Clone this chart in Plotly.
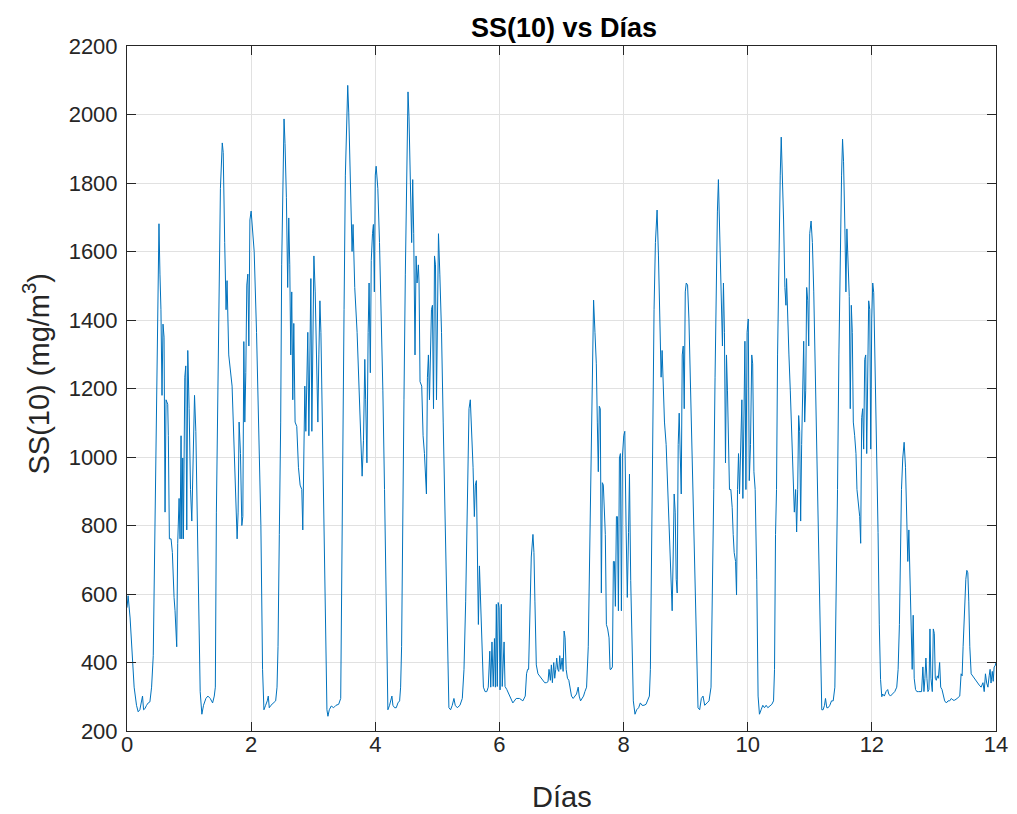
import plotly.graph_objects as go

# Días (x) and SS(10) in mg/m3 (y)
dias = [
    0.000, 0.018, 0.050, 0.099, 0.115, 0.153, 0.180, 0.207, 0.234, 0.250, 0.267, 0.288, 0.315, 0.342, 0.369,
    0.396, 0.423, 0.450, 0.466, 0.493, 0.515, 0.531, 0.547, 0.564, 0.580, 0.597, 0.613, 0.629, 0.656, 0.666,
    0.683, 0.710, 0.731, 0.758, 0.774, 0.801, 0.817, 0.839, 0.855, 0.871, 0.882, 0.898, 0.909, 0.931, 0.947,
    0.963, 0.979, 1.001, 1.023, 1.044, 1.071, 1.088, 1.109, 1.125, 1.152, 1.179, 1.206, 1.233, 1.271, 1.303,
    1.341, 1.379, 1.406, 1.423, 1.440, 1.460, 1.480, 1.505, 1.535, 1.550, 1.574, 1.596, 1.612, 1.639, 1.693,
    1.736, 1.774, 1.790, 1.806, 1.828, 1.850, 1.866, 1.882, 1.898, 1.914, 1.930, 1.947, 1.963, 1.980, 2.000,
    2.049, 2.087, 2.125, 2.157, 2.184, 2.206, 2.233, 2.260, 2.276, 2.292, 2.319, 2.357, 2.395, 2.417, 2.433,
    2.454, 2.476, 2.492, 2.508, 2.530, 2.546, 2.568, 2.589, 2.606, 2.622, 2.638, 2.654, 2.671, 2.687, 2.708,
    2.735, 2.762, 2.789, 2.816, 2.832, 2.849, 2.865, 2.881, 2.897, 2.913, 2.930, 2.946, 2.962, 2.978, 2.995,
    3.011, 3.032, 3.054, 3.075, 3.091, 3.108, 3.124, 3.140, 3.167, 3.194, 3.221, 3.237, 3.259, 3.291, 3.329,
    3.367, 3.410, 3.443, 3.459, 3.475, 3.497, 3.518, 3.540, 3.556, 3.572, 3.594, 3.615, 3.626, 3.642, 3.669,
    3.707, 3.734, 3.761, 3.788, 3.810, 3.831, 3.845, 3.865, 3.885, 3.900, 3.920, 3.935, 3.955, 3.970, 3.985,
    4.000, 4.014, 4.041, 4.068, 4.095, 4.122, 4.149, 4.176, 4.203, 4.230, 4.252, 4.268, 4.284, 4.311, 4.338,
    4.365, 4.392, 4.408, 4.424, 4.441, 4.462, 4.484, 4.505, 4.527, 4.543, 4.565, 4.586, 4.603, 4.619, 4.640,
    4.657, 4.673, 4.694, 4.705, 4.721, 4.748, 4.770, 4.792, 4.813, 4.824, 4.840, 4.856, 4.873, 4.889, 4.905,
    4.921, 4.938, 4.954, 4.970, 4.986, 5.002, 5.018, 5.040, 5.067, 5.094, 5.126, 5.159, 5.186, 5.213, 5.240,
    5.267, 5.288, 5.321, 5.364, 5.402, 5.429, 5.456, 5.483, 5.510, 5.531, 5.553, 5.575, 5.596, 5.612, 5.629,
    5.645, 5.661, 5.678, 5.699, 5.721, 5.742, 5.769, 5.796, 5.820, 5.845, 5.860, 5.880, 5.900, 5.920, 5.935,
    5.950, 5.965, 5.980, 5.995, 6.010, 6.030, 6.045, 6.075, 6.090, 6.119, 6.162, 6.216, 6.270, 6.324, 6.378,
    6.416, 6.437, 6.454, 6.470, 6.491, 6.513, 6.540, 6.556, 6.572, 6.594, 6.621, 6.648, 6.675, 6.702, 6.729,
    6.756, 6.783, 6.799, 6.821, 6.837, 6.853, 6.875, 6.891, 6.907, 6.923, 6.940, 6.956, 6.972, 6.988, 7.010,
    7.026, 7.042, 7.058, 7.075, 7.096, 7.118, 7.139, 7.161, 7.188, 7.215, 7.242, 7.269, 7.285, 7.307, 7.334,
    7.355, 7.377, 7.404, 7.431, 7.447, 7.469, 7.485, 7.501, 7.517, 7.539, 7.561, 7.577, 7.593, 7.609, 7.625,
    7.642, 7.658, 7.674, 7.690, 7.706, 7.723, 7.744, 7.766, 7.782, 7.798, 7.820, 7.836, 7.852, 7.868, 7.885,
    7.901, 7.917, 7.933, 7.949, 7.965, 7.982, 8.003, 8.020, 8.040, 8.060, 8.080, 8.095, 8.115, 8.135, 8.157,
    8.184, 8.211, 8.243, 8.270, 8.297, 8.329, 8.362, 8.394, 8.416, 8.432, 8.448, 8.470, 8.491, 8.513, 8.540,
    8.562, 8.583, 8.605, 8.621, 8.637, 8.659, 8.686, 8.713, 8.740, 8.767, 8.783, 8.799, 8.815, 8.832, 8.848,
    8.864, 8.880, 8.896, 8.913, 8.929, 8.945, 8.961, 8.977, 8.994, 9.010, 9.031, 9.053, 9.075, 9.096, 9.118,
    9.139, 9.161, 9.183, 9.199, 9.226, 9.253, 9.280, 9.307, 9.345, 9.377, 9.409, 9.431, 9.453, 9.474, 9.496,
    9.512, 9.528, 9.550, 9.571, 9.593, 9.609, 9.625, 9.642, 9.658, 9.674, 9.690, 9.706, 9.728, 9.750, 9.766,
    9.782, 9.804, 9.820, 9.836, 9.852, 9.868, 9.885, 9.906, 9.922, 9.939, 9.955, 9.971, 9.990, 10.009, 10.025,
    10.045, 10.065, 10.080, 10.100, 10.120, 10.146, 10.167, 10.189, 10.216, 10.243, 10.270, 10.297, 10.324, 10.356, 10.389,
    10.416, 10.432, 10.448, 10.464, 10.481, 10.502, 10.524, 10.540, 10.556, 10.578, 10.599, 10.616, 10.626, 10.643, 10.664,
    10.686, 10.707, 10.729, 10.751, 10.772, 10.788, 10.805, 10.821, 10.837, 10.853, 10.869, 10.886, 10.902, 10.918, 10.934,
    10.950, 10.967, 10.983, 10.999, 11.021, 11.042, 11.064, 11.085, 11.107, 11.129, 11.150, 11.172, 11.193, 11.215, 11.237,
    11.253, 11.274, 11.296, 11.323, 11.350, 11.377, 11.404, 11.426, 11.447, 11.469, 11.490, 11.512, 11.528, 11.544, 11.566,
    11.582, 11.598, 11.615, 11.636, 11.652, 11.669, 11.685, 11.701, 11.723, 11.744, 11.760, 11.782, 11.804, 11.820, 11.836,
    11.852, 11.868, 11.885, 11.901, 11.917, 11.933, 11.949, 11.966, 11.982, 11.998, 12.014, 12.030, 12.050, 12.075, 12.100,
    12.120, 12.140, 12.160, 12.174, 12.201, 12.228, 12.255, 12.272, 12.299, 12.336, 12.369, 12.401, 12.423, 12.444, 12.461,
    12.477, 12.498, 12.520, 12.542, 12.563, 12.579, 12.596, 12.612, 12.633, 12.650, 12.666, 12.682, 12.704, 12.725, 12.752,
    12.779, 12.801, 12.822, 12.839, 12.855, 12.871, 12.887, 12.903, 12.920, 12.936, 12.952, 12.974, 12.990, 13.006, 13.022,
    13.038, 13.055, 13.071, 13.092, 13.109, 13.130, 13.152, 13.173, 13.200, 13.227, 13.254, 13.281, 13.308, 13.335, 13.373,
    13.416, 13.438, 13.454, 13.470, 13.492, 13.514, 13.530, 13.546, 13.562, 13.578, 13.600, 13.622, 13.650, 13.680, 13.700,
    13.730, 13.760, 13.790, 13.810, 13.830, 13.850, 13.870, 13.890, 13.905, 13.920, 13.940, 13.955, 13.970, 13.985, 14.000,
]

ss10 = [
    560, 595, 530, 380, 328, 275, 256, 262, 288, 302, 262, 265, 275, 282, 285,
    328, 420, 787, 1167, 1495, 1681, 1534, 1430, 1180, 1388, 1350, 839, 1167, 1154, 1062,
    761, 761, 721, 590, 551, 446, 748, 879, 761, 1062, 761, 997, 761, 1233, 1266,
    787, 1311, 1141, 905, 813, 1062, 1180, 1075, 905, 643, 315, 249, 275, 295, 302,
    295, 282, 302, 328, 839, 1167, 1508, 1784, 1917, 1889, 1626, 1430, 1515, 1298, 1207,
    970, 761, 839, 1102, 1010, 800, 826, 1337, 1102, 1246, 1502, 1534, 1324, 1692, 1718,
    1600, 1364, 1102, 800, 380, 262, 275, 288, 302, 268, 275, 282, 288, 328, 446,
    774, 1102, 1561, 1823, 1987, 1915, 1757, 1495, 1698, 1561, 1298, 1482, 1167, 1390, 1102,
    1089, 970, 918, 905, 787, 1036, 1207, 1075, 1220, 1364, 1062, 1311, 1521, 1075, 1469,
    1587, 1482, 1298, 1102, 1298, 1456, 1364, 1167, 905, 643, 262, 243, 262, 273, 268,
    275, 278, 295, 577, 970, 1430, 1823, 2020, 2085, 2007, 1823, 1692, 1600, 1679, 1495,
    1364, 1233, 1102, 944, 1049, 1285, 1167, 983, 1364, 1508, 1246, 1574, 1652, 1679, 1482,
    1823, 1849, 1784, 1626, 1430, 1193, 905, 577, 262, 275, 288, 302, 275, 268, 268,
    282, 288, 328, 446, 839, 1167, 1534, 1849, 2066, 1993, 1823, 1626, 1810, 1652, 1298,
    1587, 1508, 1561, 1508, 1220, 1207, 1062, 1010, 931, 892, 1233, 1298, 1167, 1324, 1430,
    1443, 1141, 1587, 1561, 1167, 1534, 1652, 1534, 1364, 1102, 774, 446, 268, 262, 275,
    295, 275, 268, 275, 295, 380, 577, 905, 1141, 1167, 1075, 970, 826, 918, 931,
    774, 511, 682, 577, 446, 328, 315, 315, 328, 433, 328, 460, 330, 470, 328,
    570, 330, 575, 560, 320, 570, 330, 460, 330, 321, 302, 282, 295, 295, 288,
    302, 367, 380, 380, 577, 708, 774, 721, 577, 393, 367, 361, 354, 348, 341,
    341, 344, 380, 348, 393, 341, 400, 354, 380, 413, 380, 374, 420, 380, 413,
    374, 492, 472, 380, 354, 348, 328, 302, 295, 302, 308, 328, 302, 288, 295,
    302, 315, 328, 446, 656, 905, 1102, 1364, 1458, 1364, 1272, 1102, 957, 1148, 1141,
    603, 925, 918, 826, 774, 511, 498, 472, 380, 380, 387, 695, 695, 564, 826,
    826, 551, 997, 1010, 551, 1003, 1062, 1075, 800, 590, 780, 950, 640, 446, 288,
    249, 262, 268, 282, 275, 275, 278, 295, 302, 380, 735, 1036, 1430, 1626, 1721,
    1587, 1430, 1233, 1311, 1233, 1102, 1036, 905, 748, 603, 551, 708, 892, 839, 643,
    603, 1036, 1128, 983, 892, 1298, 1324, 1141, 1482, 1508, 1502, 1403, 1233, 1062, 905,
    708, 511, 328, 268, 262, 295, 302, 275, 282, 288, 328, 577, 905, 1233, 1561,
    1718, 1810, 1666, 1495, 1324, 1508, 1364, 983, 1298, 1193, 1075, 905, 905, 852, 774,
    721, 695, 597, 905, 1010, 892, 1062, 1167, 879, 1233, 1338, 905, 1364, 1403, 931,
    1036, 1298, 1272, 957, 905, 643, 302, 249, 262, 275, 268, 275, 268, 272, 278,
    288, 380, 774, 905, 1298, 1626, 1823, 1934, 1849, 1692, 1495, 1443, 1521, 1403, 1298,
    1193, 1062, 970, 839, 905, 781, 905, 1121, 1075, 813, 1036, 1193, 1338, 1102, 1193,
    1495, 1456, 1324, 1652, 1689, 1626, 1482, 1298, 1102, 905, 708, 511, 262, 262, 275,
    295, 268, 268, 275, 288, 288, 328, 577, 905, 1298, 1626, 1823, 1928, 1862, 1666,
    1482, 1666, 1587, 1469, 1141, 1443, 1364, 1102, 1062, 1010, 905, 865, 826, 748, 1115,
    1141, 1023, 1285, 1298, 1010, 1298, 1456, 1430, 1023, 1403, 1508, 1480, 1300, 1050, 780,
    510, 350, 300, 308, 302, 315, 321, 308, 302, 308, 315, 328, 380, 511, 708,
    905, 997, 1043, 970, 839, 695, 787, 643, 511, 380, 538, 354, 321, 315, 315,
    315, 315, 387, 315, 354, 413, 354, 315, 321, 498, 354, 315, 498, 485, 354,
    348, 361, 354, 400, 328, 321, 302, 288, 282, 288, 288, 295, 290, 290, 295,
    302, 367, 361, 446, 577, 643, 669, 662, 577, 446, 367, 361, 354, 345, 341,
    334, 328, 341, 315, 367, 340, 328, 361, 380, 340, 374, 345, 387, 390, 400,
]

x_ticks = [0, 2, 4, 6, 8, 10, 12, 14]
y_ticks = [200, 400, 600, 800, 1000, 1200, 1400, 1600, 1800, 2000, 2200]

FONT = "Liberation Sans, Arial, Helvetica, sans-serif"
AX = "#262626"
GRID = "#E1E1E1"

fig = go.Figure()
fig.add_trace(go.Scatter(
    x=dias, y=ss10, mode="lines",
    line=dict(color="#0072BD", width=1),
    showlegend=False, hoverinfo="x+y",
))

axis_common = dict(
    showgrid=True, gridcolor=GRID, gridwidth=1,
    zeroline=False, showline=True, linecolor=AX, linewidth=1,
    mirror="ticks", ticks="inside", ticklen=9, tickcolor=AX, tickwidth=1,
    tickfont=dict(family=FONT, size=22, color=AX),
)

# the page body adds an 8px offset at left/top; margins compensate for it
fig.update_layout(
    width=1017, height=814,
    paper_bgcolor="white", plot_bgcolor="white",
    margin=dict(l=119, r=29, t=38, b=91),
    title=dict(text="<b>SS(10) vs Días</b>", x=0.5467, xanchor="center",
               y=0.9754, yanchor="middle",
               font=dict(family=FONT, size=27, color="black")),
    xaxis=dict(range=[0, 14], tickvals=x_ticks, ticktext=[str(v) for v in x_ticks],
               ticklabelstandoff=-6, **axis_common),
    yaxis=dict(range=[200, 2200], tickvals=y_ticks, ticktext=[str(v) for v in y_ticks],
               ticklabelstandoff=4, **axis_common),
    annotations=[
        dict(text="Días", xref="paper", yref="paper", x=0.5, y=0,
             xanchor="center", yanchor="middle", yshift=-66, showarrow=False,
             font=dict(family=FONT, size=29, color=AX)),
        dict(text="SS(10) (mg/m<sup>3</sup>)", xref="paper", yref="paper", x=0, y=0.5,
             xanchor="center", yanchor="middle", xshift=-91, yshift=14, textangle=-90,
             showarrow=False, font=dict(family=FONT, size=29, color=AX)),
    ],
)

fig.write_html("out.html")
